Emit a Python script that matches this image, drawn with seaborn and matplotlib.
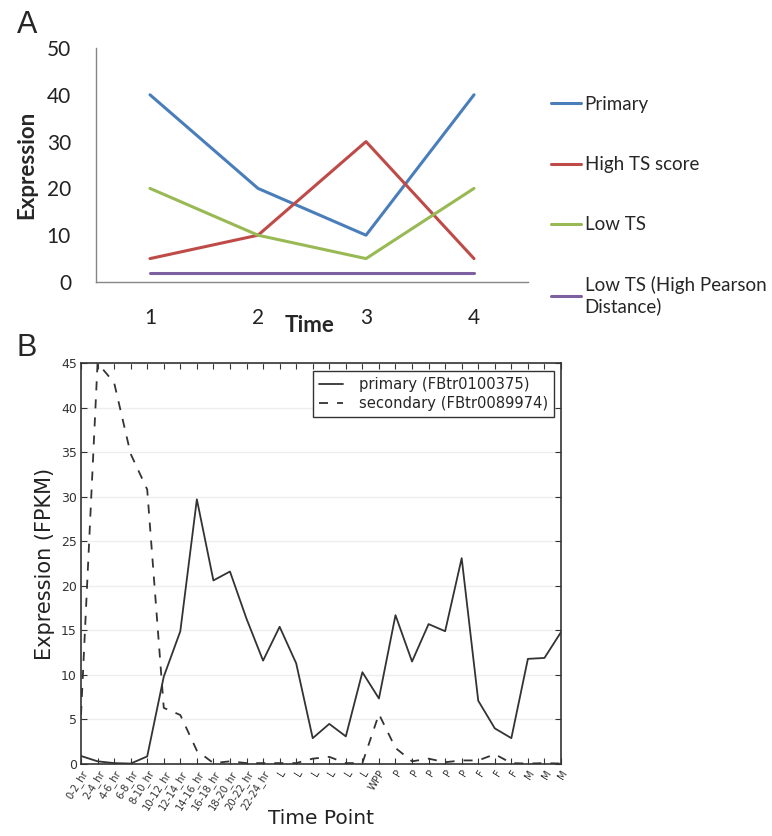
import numpy as np
import pandas as pd
import matplotlib
matplotlib.use("Agg")
import matplotlib.pyplot as plt
import seaborn as sns

# ── Panel A data (schematic) ────────────────────────────────────────────────
TIME_A      = [1, 2, 3, 4]
PRIMARY_A   = [40, 20, 10, 40]
HIGH_TS_A   = [5, 10, 30, 5]
LOW_TS_A    = [20, 10, 5, 20]
LOW_TS_HP_A = [2, 2, 2, 2]
A_LABELS = ["Primary", "High TS score", "Low TS", "Low TS (High Pearson\nDistance)"]
A_COLORS = ["#4A7EBB", "#BE4B48", "#98B954", "#7D60A0"]

# ── Panel B data (FPKM per time point) ──────────────────────────────────────
TIME_POINTS = ["0-2_hr", "2-4_hr", "4-6_hr", "6-8_hr", "8-10_hr", "10-12_hr",
               "12-14_hr", "14-16_hr", "16-18_hr", "18-20_hr", "20-22_hr",
               "22-24_hr", "L", "L", "L", "L", "L", "L", "WPP",
               "P", "P", "P", "P", "P", "F", "F", "F", "M", "M", "M"]
PRIMARY_B = [0.9, 0.3, 0.1, 0.05, 0.85, 9.8, 14.9, 29.7, 20.6, 21.6, 16.3, 11.6,
             15.4, 11.3, 2.9, 4.5, 3.1, 10.3, 7.35, 16.7, 11.5, 15.7, 14.9, 23.1,
             7.1, 4.0, 2.9, 11.8, 11.9, 14.8]
SECONDARY_B = [5.5, 45.0, 42.8, 34.8, 30.8, 6.3, 5.5, 1.5, 0.1, 0.3, 0.1, 0.1,
               0.1, 0.1, 0.6, 0.8, 0.1, 0.1, 5.6, 1.8, 0.3, 0.6, 0.2, 0.4,
               0.4, 1.1, 0.1, 0.05, 0.1, 0.05]

sns.set_style("white")
plt.rcParams["font.family"] = ["Lato", "DejaVu Sans"]

fig = plt.figure(figsize=(7.72, 8.36), dpi=100, facecolor="white")

# ── Panel A ─────────────────────────────────────────────────────────────────
axA = fig.add_axes([96 / 772, 1 - 282 / 836, 432 / 772, 234 / 836])
dfA = pd.DataFrame({"time": TIME_A * 4,
                    "expr": PRIMARY_A + HIGH_TS_A + LOW_TS_A + LOW_TS_HP_A,
                    "series": np.repeat(A_LABELS, 4)})
sns.lineplot(data=dfA, x="time", y="expr", hue="series", hue_order=A_LABELS,
             palette=A_COLORS, lw=2.2, ax=axA)

GRAY = "#868686"
axA.set_xlim(0.5, 4.5)
axA.set_ylim(0, 50)
axA.set_yticks(range(0, 51, 10))
axA.set_xticks([0.5, 1.5, 2.5, 3.5, 4.5])
axA.set_xticklabels([])
axA.set_xticks(TIME_A, minor=True)
axA.set_xticklabels([str(t) for t in TIME_A], minor=True)
axA.tick_params(axis="x", which="major", direction="out", length=6, color=GRAY, width=1)
axA.tick_params(axis="x", which="minor", length=0, pad=19, labelsize=15, labelcolor="#222222")
axA.tick_params(axis="y", direction="out", length=6, color=GRAY, width=1,
                labelsize=15, labelcolor="#222222", pad=12)
for s in ["top", "right"]:
    axA.spines[s].set_visible(False)
for s in ["left", "bottom"]:
    axA.spines[s].set_color(GRAY)
    axA.spines[s].set_linewidth(1)
axA.set_ylabel("Expression", fontsize=16, fontweight="bold", labelpad=7)
axA.set_xlabel("Time", fontsize=16, fontweight="bold")
axA.xaxis.set_label_coords(0.495, -0.14)
axA.legend(loc="upper left", bbox_to_anchor=(551 / 772, 1 - 96 / 836),
           bbox_transform=fig.transFigure, frameon=False, fontsize=13.5,
           labelspacing=2.3, handlelength=1.6, handletextpad=0.2,
           borderpad=0, borderaxespad=0)

# ── Panel B ─────────────────────────────────────────────────────────────────
axB = fig.add_axes([81 / 772, 1 - 764 / 836, 480 / 772, 401 / 836])
idx = np.arange(len(TIME_POINTS))
DARK = "#333333"
sns.lineplot(x=idx, y=PRIMARY_B, color=DARK, lw=1.3, ax=axB,
             label="primary (FBtr0100375)")
sns.lineplot(x=idx, y=SECONDARY_B, color=DARK, lw=1.3, ls=(0, (5, 5)), ax=axB,
             label="secondary (FBtr0089974)")

axB.set_xlim(0, len(TIME_POINTS) - 1)
axB.set_ylim(0, 45)
axB.set_yticks(range(0, 46, 5))
axB.set_xticks(idx)
axB.set_xticklabels(TIME_POINTS, rotation=58, ha="right", rotation_mode="anchor",
                    fontsize=7.2, color=DARK, family="DejaVu Sans")
axB.tick_params(axis="both", direction="in", length=4, color=DARK, width=0.8,
                top=True, right=True, bottom=True, left=True)
axB.tick_params(axis="y", labelsize=9, labelcolor=DARK, pad=3)
axB.tick_params(axis="x", pad=3)
for lab in axB.get_yticklabels():
    lab.set_family("DejaVu Sans")
axB.yaxis.grid(True, color="#eeeeee", lw=1)
axB.set_axisbelow(True)
for s in axB.spines.values():
    s.set_color(DARK)
    s.set_linewidth(1.2)
axB.set_ylabel("Expression (FPKM)", fontsize=15, color="#222222", family="DejaVu Sans")
axB.set_xlabel("Time Point", fontsize=14.5, color="#222222", family="DejaVu Sans")
axB.xaxis.set_label_coords(0.5, -0.112)
legB = axB.legend(loc="upper right", bbox_to_anchor=(0.985, 0.98),
                  frameon=True, fancybox=False, edgecolor=DARK, framealpha=1,
                  handlelength=1.6, handletextpad=1.1, borderpad=0.4,
                  labelspacing=0.3, borderaxespad=0,
                  prop={"family": "DejaVu Sans", "size": 10.6})
legB.get_frame().set_linewidth(1.0)

# panel letters
fig.text(27 / 772, 1 - 25 / 836, "A", fontsize=22, ha="center", va="center",
         family="Liberation Sans")
fig.text(27 / 772, 1 - 348 / 836, "B", fontsize=22, ha="center", va="center",
         family="Liberation Sans")

fig.savefig("out.png", dpi=100, facecolor="white")
